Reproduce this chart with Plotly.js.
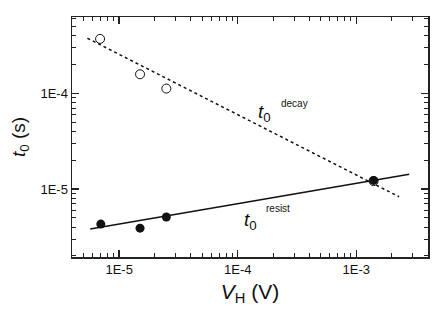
<!DOCTYPE html>
<html>
<head>
<meta charset="utf-8">
<script src="https://cdn.plot.ly/plotly-3.0.1.min.js"></script>
<style>
  html, body { margin: 0; padding: 0; background: #fff; }
  #plot { width: 436px; height: 320px; }
</style>
</head>
<body>
<div id="plot"></div>
<script>
let vDecay = [6.9e-6, 1.5e-5, 2.5e-5, 1.4e-3]
let tDecay = [3.7e-4, 1.58e-4, 1.12e-4, 1.21e-5]
let vResist = [7.0e-6, 1.5e-5, 2.5e-5, 1.4e-3]
let tResist = [4.3e-6, 3.9e-6, 5.1e-6, 1.23e-5]

// power-law fit lines (end points)
let vDecayFit = [5.4e-6, 2.3e-3]
let tDecayFit = [3.76e-4, 8.3e-6]
let vResistFit = [5.7e-6, 2.8e-3]
let tResistFit = [3.82e-6, 1.43e-5]

let majorTicks = [1e-5, 1e-4, 1e-3]
let majorText = ['1E-5', '1E-4', '1E-3']

function minorTicks(lo, hi) {
  let out = []
  for (let e = lo; e <= hi; e++) {
    for (let m = 2; m <= 9; m++) out.push(m * Math.pow(10, e))
  }
  return out
}

var fitDecay = {
  x: vDecayFit, y: tDecayFit, mode: 'lines', type: 'scatter',
  line: { color: '#111', width: 1.5, dash: 'dot' }
};
var fitResist = {
  x: vResistFit, y: tResistFit, mode: 'lines', type: 'scatter',
  line: { color: '#111', width: 1.5 }
};
var decay = {
  x: vDecay, y: tDecay, mode: 'markers', type: 'scatter',
  marker: { symbol: 'circle-open', size: 9, color: '#111', line: { width: 1 } }
};
var resist = {
  x: vResist, y: tResist, mode: 'markers', type: 'scatter',
  marker: { symbol: 'circle', size: 9, color: '#111' }
};

var axisCommon = {
  type: 'log',
  showgrid: false,
  zeroline: false,
  showline: true,
  linecolor: '#222',
  linewidth: 1.5,
  mirror: 'ticks',
  ticks: 'inside',
  ticklen: 7,
  tickwidth: 1.5,
  tickcolor: '#222',
  tickmode: 'array',
  tickvals: majorTicks,
  ticktext: majorText,
  tickfont: { family: 'Liberation Sans, Arial, sans-serif', size: 13, color: '#111' }
};

var layout = {
  width: 436,
  height: 320,
  margin: { l: 72, r: 8, t: 17, b: 63 },
  paper_bgcolor: '#fff',
  plot_bgcolor: '#fff',
  showlegend: false,
  font: { family: 'Liberation Sans, Arial, sans-serif', color: '#111' },
  xaxis: Object.assign({}, axisCommon, {
    range: [Math.log10(4e-6), Math.log10(4.03e-3)],
    minor: { tickmode: 'array', tickvals: minorTicks(-6, -3), ticks: 'inside', ticklen: 4, tickwidth: 1, tickcolor: '#222' },
    title: { text: '<i>V</i><sub>H</sub> (V)', font: { size: 21 }, standoff: 8 }
  }),
  yaxis: Object.assign({}, axisCommon, {
    range: [-5.71, -3.203],
    minor: { tickmode: 'array', tickvals: minorTicks(-6, -4), ticks: 'inside', ticklen: 4, tickwidth: 1, tickcolor: '#222' },
    title: { text: '<i>t</i><sub>0</sub> (s)', font: { size: 19 }, standoff: 10 }
  }),
  annotations: [
    { xref: 'paper', yref: 'paper', x: 0.54, y: 0.6, text: '<i>t</i><sub>0</sub>', showarrow: false, font: { size: 19 } },
    { xref: 'paper', yref: 'paper', x: 0.625, y: 0.64, text: 'decay', showarrow: false, font: { size: 10 } },
    { xref: 'paper', yref: 'paper', x: 0.5, y: 0.09, text: '<i>t</i><sub>0</sub>', showarrow: false, font: { size: 19 } },
    { xref: 'paper', yref: 'paper', x: 0.58, y: 0.17, text: 'resist', showarrow: false, font: { size: 10 } }
  ]
};

Plotly.newPlot('plot', [fitDecay, fitResist, decay, resist], layout, { displayModeBar: false, staticPlot: true });
</script>
</body>
</html>
